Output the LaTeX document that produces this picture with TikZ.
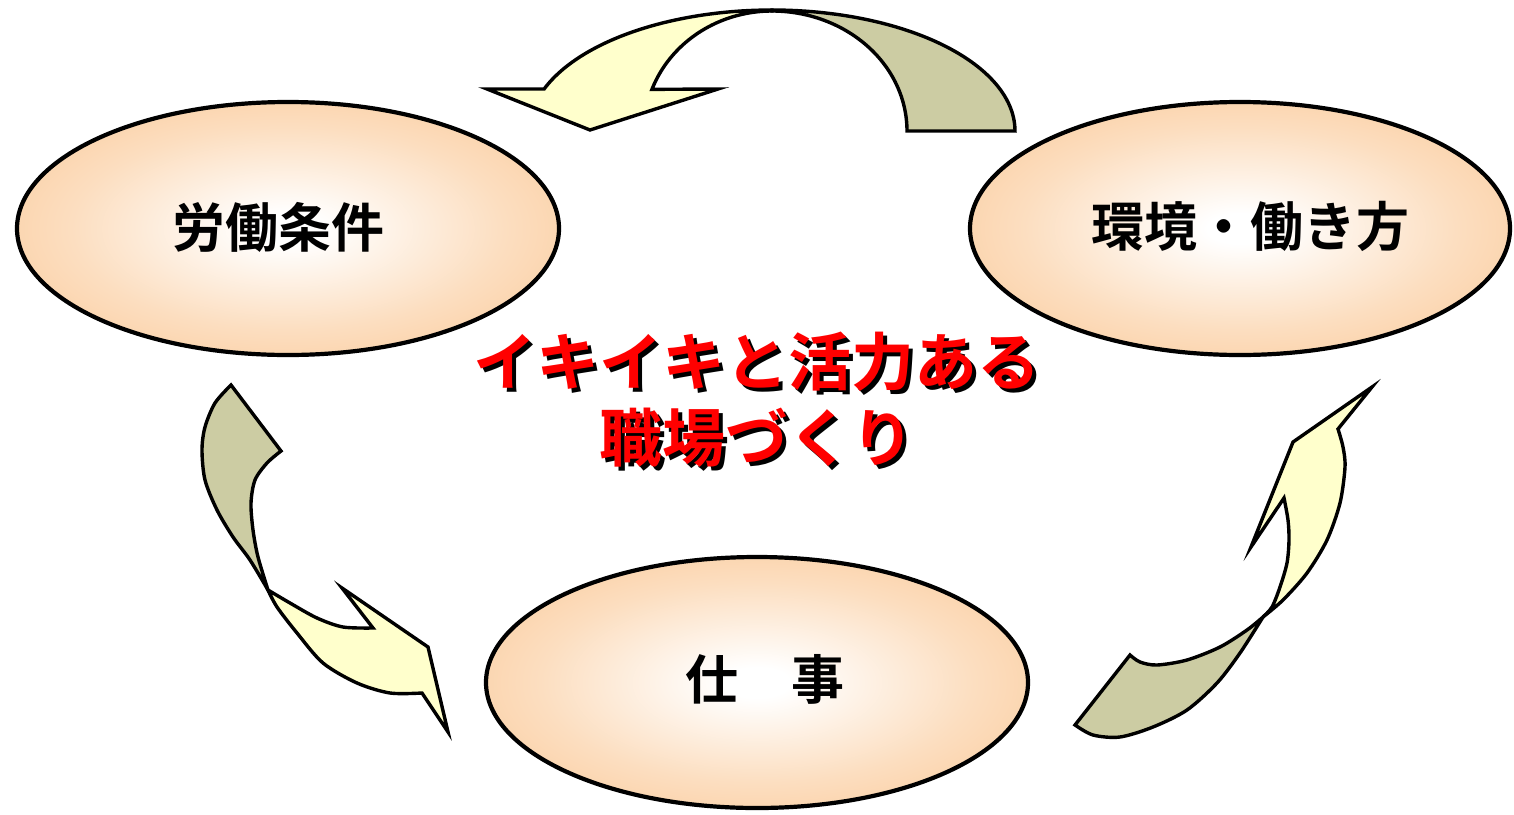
\documentclass[tikz,border=0pt]{standalone}
\usepackage{fontspec}
\newfontfamily\cjk{Noto Sans CJK JP}[BoldFont={Noto Sans CJK JP Bold}]
\usetikzlibrary{shapes.geometric}
\definecolor{peach}{RGB}{250,198,146}
\definecolor{peachmid}{RGB}{252,222,192}
\definecolor{arrowyellow}{RGB}{255,255,204}
\definecolor{arrowolive}{RGB}{204,204,163}
\pgfdeclareradialshading{peachshade}{\pgfpoint{0bp}{0bp}}{color(0bp)=(white); color(3bp)=(white); color(20bp)=(peachmid); color(36bp)=(peach); color(50bp)=(peach)}
\begin{document}
\begin{tikzpicture}[x=1pt,y=-1pt,
  bubble/.style={ellipse, draw=black, line width=4.2pt, shading=peachshade, inner sep=0pt},
  bubbletext/.style={font=\cjk\bfseries\fontsize{53}{60}\selectfont, text=black, inner sep=0pt},
  titletext/.style={font=\cjk\bfseries\fontsize{63}{76}\selectfont, align=center, inner sep=0pt},
  yellowpart/.style={draw=black, line width=3.4pt, fill=arrowyellow, line join=miter},
  olivepart/.style={draw=black, line width=3.4pt, fill=arrowolive, line join=miter}]
\useasboundingbox (0,0) rectangle (1514,814);

% ellipses
\node[bubble, minimum width=542pt, minimum height=253pt] (work) at (288,228.5) {};
\node[bubble, minimum width=540pt, minimum height=253pt] (env) at (1240,228.5) {};
\node[bubble, minimum width=542pt, minimum height=251pt] (job) at (757,682.5) {};

\node[bubbletext] (worktxt) at ([xshift=-10pt,yshift=1pt]work.center) {労働条件};
\node[bubbletext] (envtxt) at ([xshift=10pt,yshift=2pt]env.center) {環境・働き方};
\node[bubbletext] (jobtxt) at ([xshift=8pt,yshift=3pt]job.center) {仕　事};

% top arrow
\draw[olivepart] plot[domain=0:-90, samples=60] ({772+243*cos(\x)},{131+121*sin(\x)})
  -- plot[domain=-90:0, samples=60] ({772+135*cos(\x)},{131+120*sin(\x)}) -- cycle;
\draw[yellowpart] plot[domain=-90:-159.7, samples=60] ({772+128*cos(\x)},{131+120*sin(\x)})
  -- (718,89) -- (590,130) -- (487,89)
  -- plot[domain=-159.7:-90, samples=60] ({772+243*cos(\x)},{131+121*sin(\x)}) -- cycle;

% left arrow
\draw[olivepart] plot[smooth] coordinates {(231,385) (215,403) (205,427) (202,450) (205,480) (217,510) (233,537) (250,560) (268,590)}
  -- plot[smooth] coordinates {(268,590) (258,557) (253,530) (251,503) (255,480) (267,463) (281,451)} -- cycle;
\draw[yellowpart] plot[smooth] coordinates {(268,590) (290,603) (317,618) (343,627) (373,628)}
  -- (342,588) -- (428,647) -- (448,732) -- (422,693)
  -- plot[smooth] coordinates {(422,693) (390,693) (357,683) (323,663) (297,633) (277,607) (268,590)} -- cycle;

% right arrow
\draw[olivepart] plot[smooth] coordinates {(1263,617) (1247,630) (1220,647) (1187,660) (1157,665) (1140,662) (1130,655)}
  -- (1075,725)
  -- plot[smooth] coordinates {(1075,725) (1093,735) (1120,737) (1153,727) (1187,710) (1217,683) (1240,653) (1263,617)} -- cycle;
\draw[yellowpart] (1372,387) -- (1338,429)
  -- plot[smooth] coordinates {(1338,429) (1343,447) (1345,467) (1340,503) (1327,540) (1307,573) (1283,600) (1263,617)}
  -- plot[smooth] coordinates {(1263,617) (1272,607) (1280,587) (1287,563) (1289,540) (1288,520) (1284,498)}
  -- (1251,547) -- (1293,442) -- cycle;

% title
\node[titletext, text=black] (titleshadow) at (761,404) {イキイキと活力ある\\職場づくり};
\node[titletext, text=red] (title) at (757,400) {イキイキと活力ある\\職場づくり};
\end{tikzpicture}
\end{document}
